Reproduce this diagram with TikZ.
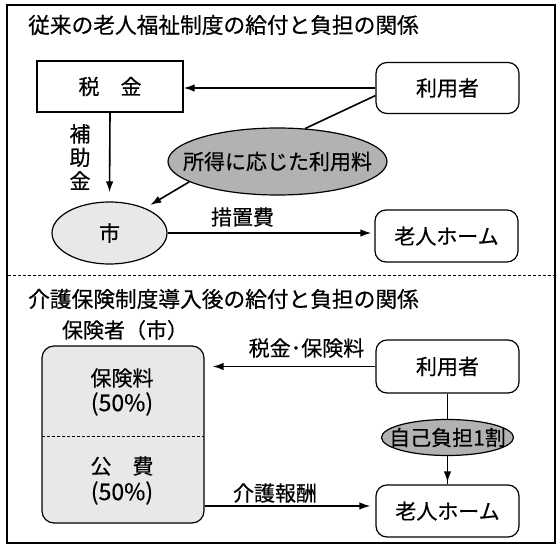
\documentclass[tikz,border=0pt]{standalone}
\usepackage{fontspec}
\setmainfont{Noto Sans CJK JP}[FakeBold=0.5]
\usetikzlibrary{arrows.meta,shapes.geometric}
\begin{document}
\begin{tikzpicture}[x=1pt,y=-1pt,
  lbl/.style={font=\fontsize{21}{25}\selectfont, inner sep=0pt},
  ttl/.style={font=\fontsize{21.7}{25}\selectfont, anchor=west, inner sep=0pt},
  sqbox/.style={draw, line width=1.2pt, minimum width=146pt, minimum height=51pt, inner sep=0pt, font=\fontsize{21}{25}\selectfont},
  rbox/.style={draw, rounded corners=11pt, line width=1.2pt, minimum width=143pt, minimum height=51pt, inner sep=0pt, font=\fontsize{21}{25}\selectfont},
  oval/.style={ellipse, draw, line width=1.2pt, inner sep=0pt, font=\fontsize{21}{25}\selectfont},
  arr/.style={line width=1.6pt, -{Latex[length=11pt,width=7.5pt]}},
  conn/.style={line width=1.6pt},
  sep/.style={line width=0.9pt, dash pattern=on 3pt off 2pt}
]
\useasboundingbox (0,0) rectangle (558,546);
\fill[white] (0,0) rectangle (558,546);

% ---------- upper section ----------
\node[ttl] (t1) at (28,25) {従来の老人福祉制度の給付と負担の関係};
\node[sqbox] (tax) at (110,86.5) {税　金};
\node[rbox] (user1) at (447.5,88) {利用者};
\node[oval, fill=gray!60, minimum width=219pt, minimum height=67pt] (fee) at (277.5,161.5) {\makebox[0pt][c]{所得に応じた利用料}};
\node[oval, fill=gray!18, minimum width=115pt, minimum height=62pt] (city) at (109.5,233) {市};
\node[rbox, minimum height=52pt] (home1) at (446.5,236) {老人ホーム};

\draw[arr] (user1.west) -- (user1.west -| tax.east);
\draw[conn] (user1.186) -- (fee.50);
\draw[arr, shorten >=6pt] (fee.193) -- (city.35);
\draw[arr, shorten >=9pt] (tax.south) -- (city.north);
\draw[arr, shorten >=3pt] (city.east) -- (city.east -| home1.west);

\node[lbl, align=center, font=\fontsize{21}{23.5}\selectfont] (subsidy) at (80,157) {補\\助\\金};
\node[lbl] (sochi) at (242.5,217) {措置費};

% separator
\coordinate (sepl) at (8,275);
\coordinate (sepr) at (555,275);
\draw[sep] (sepl) -- (sepr);

% ---------- lower section ----------
\node[ttl] (t2) at (28,299) {介護保険制度導入後の給付と負担の関係};
\node[lbl] (insurer) at (125,330) {保険者（市）};
\node[rbox, fill=gray!18, minimum width=162pt, minimum height=177pt, rounded corners=12pt] (ins) at (123,434.5) {};
\coordinate (divl) at (42,436);
\coordinate (divr) at (204,436);
\draw[sep] (divl) -- (divr);
\node[lbl] (prem) at (122,378) {保険料};
\node[lbl, font=\fontsize{23}{25}\selectfont] (prempct) at (122,404) {(50\%)};
\node[lbl] (pub) at (122,466) {公　費};
\node[lbl, font=\fontsize{23}{25}\selectfont] (pubpct) at (122,493) {(50\%)};

\node[rbox, minimum height=53pt] (user2) at (447.5,366.5) {利用者};
\node[rbox, minimum height=52pt] (home2) at (447.5,511) {老人ホーム};

\draw[conn] (user2.south) -- (home2.north);
\draw[arr, shorten >=2pt] (user2.south) -- (home2.north);
\node[oval, fill=gray!60, minimum width=132pt, minimum height=36pt] (self) at (447.5,437.5) {\makebox[0pt][c]{自己負担1割}};

\draw[arr, shorten >=8pt] (user2.west) -- (user2.west -| ins.east);
\node[lbl] (taxprem) at (306.5,348) {税金･保険料};
\draw[arr, shorten >=5pt] (ins.east |- home2.176) -- (home2.176);
\node[lbl] (kaigo) at (275,493) {介護報酬};

% outer border
\draw[line width=2pt] (7,5) rectangle (555,543);
\end{tikzpicture}
\end{document}
